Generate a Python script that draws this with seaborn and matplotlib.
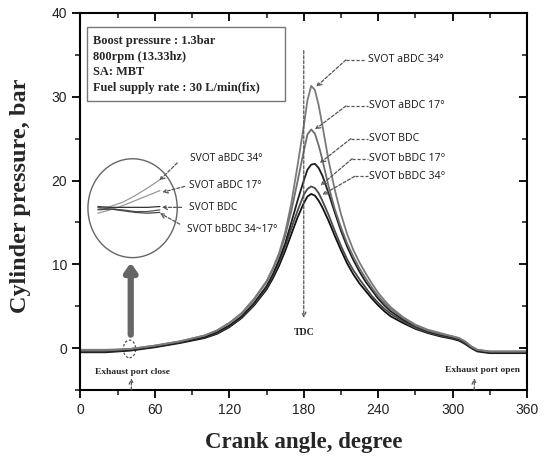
import numpy as np
import pandas as pd
import matplotlib
matplotlib.use("Agg")
import matplotlib.pyplot as plt
from matplotlib.patches import Ellipse, Rectangle
import seaborn as sns

# ---------------- data ----------------
angles = [0, 20, 40, 60, 80, 100, 110, 120, 130, 140, 150, 155, 160, 165, 170, 175,
          180, 183, 186, 189, 192, 195, 200, 205, 210, 215, 220, 225, 230, 235, 240,
          245, 250, 260, 270, 280, 290, 300, 305, 310, 315, 320, 330, 340, 350, 360]

p_abdc34 = [-0.2, -0.2, -0.1, 0.3, 0.8, 1.5, 2.1, 3.0, 4.2, 5.9, 8.0, 9.5, 11.3, 13.8, 17.3, 21.8,
            26.5, 29.6, 31.3, 30.8, 29.0, 26.6, 22.4, 18.9, 16.0, 13.6, 11.7, 10.2, 8.9, 7.7, 6.6,
            5.7, 4.9, 3.7, 2.8, 2.2, 1.8, 1.4, 1.2, 0.8, 0.2, -0.2, -0.4, -0.4, -0.4, -0.4]
p_abdc17 = [-0.3, -0.3, -0.1, 0.3, 0.8, 1.5, 2.1, 3.0, 4.1, 5.8, 7.9, 9.4, 11.1, 13.4, 16.4, 19.9,
            23.5, 25.5, 26.1, 25.6, 24.2, 22.5, 19.3, 16.6, 14.4, 12.5, 10.9, 9.5, 8.3, 7.2, 6.2,
            5.4, 4.7, 3.6, 2.7, 2.1, 1.7, 1.4, 1.2, 0.8, 0.2, -0.2, -0.4, -0.4, -0.4, -0.4]
p_bdc = [-0.4, -0.4, -0.2, 0.2, 0.7, 1.3, 1.9, 2.7, 3.8, 5.4, 7.4, 8.8, 10.5, 12.5, 15.0, 17.6,
         20.0, 21.3, 21.9, 22.0, 21.5, 20.6, 18.5, 16.2, 14.0, 12.1, 10.5, 9.1, 7.9, 6.9, 5.9,
         5.1, 4.4, 3.4, 2.6, 2.0, 1.6, 1.3, 1.1, 0.7, 0.1, -0.3, -0.5, -0.5, -0.5, -0.5]
p_bbdc17 = [-0.4, -0.4, -0.2, 0.2, 0.7, 1.3, 1.8, 2.6, 3.7, 5.2, 7.2, 8.6, 10.2, 12.1, 14.3, 16.4,
            18.3, 19.0, 19.3, 19.1, 18.5, 17.6, 15.9, 14.0, 12.2, 10.6, 9.3, 8.2, 7.2, 6.2, 5.4,
            4.7, 4.1, 3.2, 2.4, 1.9, 1.5, 1.2, 1.0, 0.6, 0.1, -0.3, -0.5, -0.5, -0.5, -0.5]
p_bbdc34 = [-0.5, -0.5, -0.3, 0.1, 0.6, 1.2, 1.7, 2.5, 3.6, 5.1, 7.0, 8.3, 9.8, 11.6, 13.6, 15.6,
            17.3, 18.1, 18.4, 18.2, 17.6, 16.8, 15.2, 13.4, 11.7, 10.1, 8.8, 7.7, 6.8, 5.9, 5.1,
            4.4, 3.8, 3.0, 2.3, 1.8, 1.4, 1.1, 0.9, 0.5, 0.0, -0.4, -0.6, -0.6, -0.6, -0.6]

series_names = ["SVOT aBDC 34°", "SVOT aBDC 17°", "SVOT BDC", "SVOT bBDC 17°", "SVOT bBDC 34°"]
series_vals = [p_abdc34, p_abdc17, p_bdc, p_bbdc17, p_bbdc34]
series_colors = ["#7a7a7a", "#6e6e6e", "#1e1e1e", "#4a4a4a", "#111111"]

# magnified view inside the circle (schematic inset curves)
inset_x = [14, 24, 34, 44, 54, 64]
inset_abdc34 = [16.6, 16.9, 17.4, 18.2, 19.1, 20.1]
inset_abdc17 = [16.1, 16.5, 17.0, 17.6, 18.2, 18.8]
inset_bdc = [16.9, 16.8, 16.8, 16.8, 16.8, 16.9]
inset_bbdc17 = [16.8, 16.6, 16.5, 16.3, 16.3, 16.5]
inset_bbdc34 = [16.5, 16.6, 16.4, 16.2, 16.1, 16.2]

info_lines = ["Boost pressure : 1.3bar", "800rpm (13.33hz)", "SA: MBT",
              "Fuel supply rate : 30 L/min(fix)"]

x_ticks = [0, 60, 120, 180, 240, 300, 360]
y_ticks = [0, 10, 20, 30, 40]

# ---------------- figure ----------------
sns.set_style("ticks")
plt.rcParams['font.family'] = ['Liberation Sans', 'DejaVu Sans']

fig = plt.figure(figsize=(5.45, 4.57), dpi=100)
ax = fig.add_axes([0.1477, 0.1466, 0.8193, 0.825])

rows = []
for name, vals in zip(series_names, series_vals):
    for a, p in zip(angles, vals):
        rows.append((name, a, p))
df = pd.DataFrame(rows, columns=["series", "angle", "pressure"])
sns.lineplot(data=df, x="angle", y="pressure", hue="series", hue_order=series_names[::-1],
             palette=dict(zip(series_names, series_colors)), legend=False, sort=False,
             linewidth=1.3, ax=ax)

ax.set_xlim(0, 360)
ax.set_ylim(-5, 40)
ax.set_xticks(x_ticks)
ax.set_yticks(y_ticks)
ax.set_xticks(np.arange(30, 360, 60), minor=True)
ax.set_yticks(np.arange(-5, 40, 10), minor=True)
ax.tick_params(axis="both", which="major", direction="out", length=6, width=1.3,
               labelsize=10, colors="black")
ax.tick_params(axis="both", which="minor", direction="out", length=3.5, width=1.2)
ax.tick_params(top=True, right=True, which="both")
for lab in ax.get_xticklabels() + ax.get_yticklabels():
    lab.set_color("#222222")
for s in ax.spines.values():
    s.set_linewidth(1.5)
    s.set_color("black")
# top/right ticks point inward
for t in ax.xaxis.get_major_ticks() + ax.xaxis.get_minor_ticks():
    t.tick2line.set_marker(matplotlib.lines.TICKDOWN)
for t in ax.yaxis.get_major_ticks() + ax.yaxis.get_minor_ticks():
    t.tick2line.set_marker(matplotlib.lines.TICKLEFT)

serif = ['Liberation Serif', 'DejaVu Serif']
ax.set_xlabel("Crank angle, degree", fontsize=16.5, fontweight="bold", family=serif, labelpad=11)
ax.set_ylabel("Cylinder pressure, bar", fontsize=17.5, fontweight="bold", family=serif)
ax.yaxis.set_label_coords(-0.11, 0.515)

# info box
ax.add_patch(Rectangle((5.2, 29.5), 159.5, 8.8, facecolor="white", edgecolor="#777777",
                       linewidth=1, zorder=3))
ax.text(10.0, 37.4, "\n".join(info_lines), fontsize=8.9, fontweight="bold", family=serif,
        va="top", ha="left", linespacing=1.42, zorder=4)

lab_font = ['Noto Sans', 'DejaVu Sans']
dash_kw = dict(color="#555555", linewidth=0.9, linestyle=(0, (2.5, 1.5)))
arrow_kw = dict(arrowstyle="->", color="#555555", linewidth=0.9, linestyle=(0, (2.5, 1.5)),
                shrinkA=0, shrinkB=0, mutation_scale=8)

# right-hand labels: (text x, text y, kink x, arrow target x, arrow target y)
label_pos = [
    (231.5, 34.4, 214.0, 190.0, 31.2),
    (232.5, 28.9, 214.0, 189.0, 26.1),
    (233.0, 25.0, 218.0, 193.0, 22.1),
    (233.0, 22.6, 219.0, 193.5, 19.4),
    (233.0, 20.5, 221.0, 195.0, 18.3),
]
for name, (tx, ty, kx, ax_, ay_) in zip(series_names, label_pos):
    ax.text(tx, ty, name, fontsize=7.6, fontweight="bold", family=lab_font, va="center",
            ha="left", color="#222222")
    ax.plot([kx, tx - 1.0], [ty, ty], **dash_kw)
    ax.annotate("", xy=(ax_, ay_), xytext=(kx, ty), arrowprops=arrow_kw)

# TDC marker
ax.annotate("", xy=(180, 3.6), xytext=(180, 35.5), arrowprops=arrow_kw)
ax.text(180, 1.9, "TDC", fontsize=7, fontweight="bold", family=serif, ha="center", va="center")

# exhaust port markers
ax.add_patch(Ellipse((39.5, -0.1), 10, 2.1, fill=False, edgecolor="#555555",
                     linewidth=0.9, linestyle=(0, (2, 1.5))))
ax.text(42, -2.9, "Exhaust port close", fontsize=6.8, fontweight="bold", family=serif,
        ha="center", va="center")
ax.annotate("", xy=(41, -3.6), xytext=(41, -5), arrowprops=arrow_kw)
ax.text(324, -2.6, "Exhaust port open", fontsize=6.8, fontweight="bold", family=serif,
        ha="center", va="center")
ax.annotate("", xy=(317.5, -3.6), xytext=(317.5, -5), arrowprops=arrow_kw)

# big grey arrow to the zoom circle
ax.annotate("", xy=(40.5, 10.2), xytext=(40.5, 1.6),
            arrowprops=dict(arrowstyle="-|>,head_length=0.5,head_width=0.35", color="#666666",
                            linewidth=4.5, shrinkA=0, shrinkB=0, mutation_scale=10))

# zoom circle with inset curves
ax.add_patch(Ellipse((42, 16.7), 72, 11.8, fill=False, edgecolor="#666666", linewidth=1.0))
for xs, ys, c in [(inset_x, inset_abdc34, "#999999"), (inset_x, inset_abdc17, "#999999"),
                  (inset_x, inset_bdc, "#333333"), (inset_x, inset_bbdc17, "#555555"),
                  (inset_x, inset_bbdc34, "#444444")]:
    ax.plot(xs, ys, color=c, linewidth=0.9)

inset_labels = [
    ("SVOT aBDC 34°", 88.5, 22.6, 78.0, 22.1, 63.5, 20.0),
    ("SVOT aBDC 17°", 87.5, 19.4, 84.0, 19.3, 66.0, 18.6),
    ("SVOT BDC", 87.5, 16.8, 81.5, 16.8, 65.5, 16.8),
    ("SVOT bBDC 34~17°", 86.0, 14.2, 80.0, 14.8, 64.0, 16.1),
]
for txt, tx, ty, sx, sy, ex, ey in inset_labels:
    ax.text(tx, ty, txt, fontsize=7.3, fontweight="bold", family=lab_font, va="center",
            ha="left", color="#222222")
    ax.annotate("", xy=(ex, ey), xytext=(sx, sy), arrowprops=arrow_kw)

fig.savefig("out.png", dpi=100)
